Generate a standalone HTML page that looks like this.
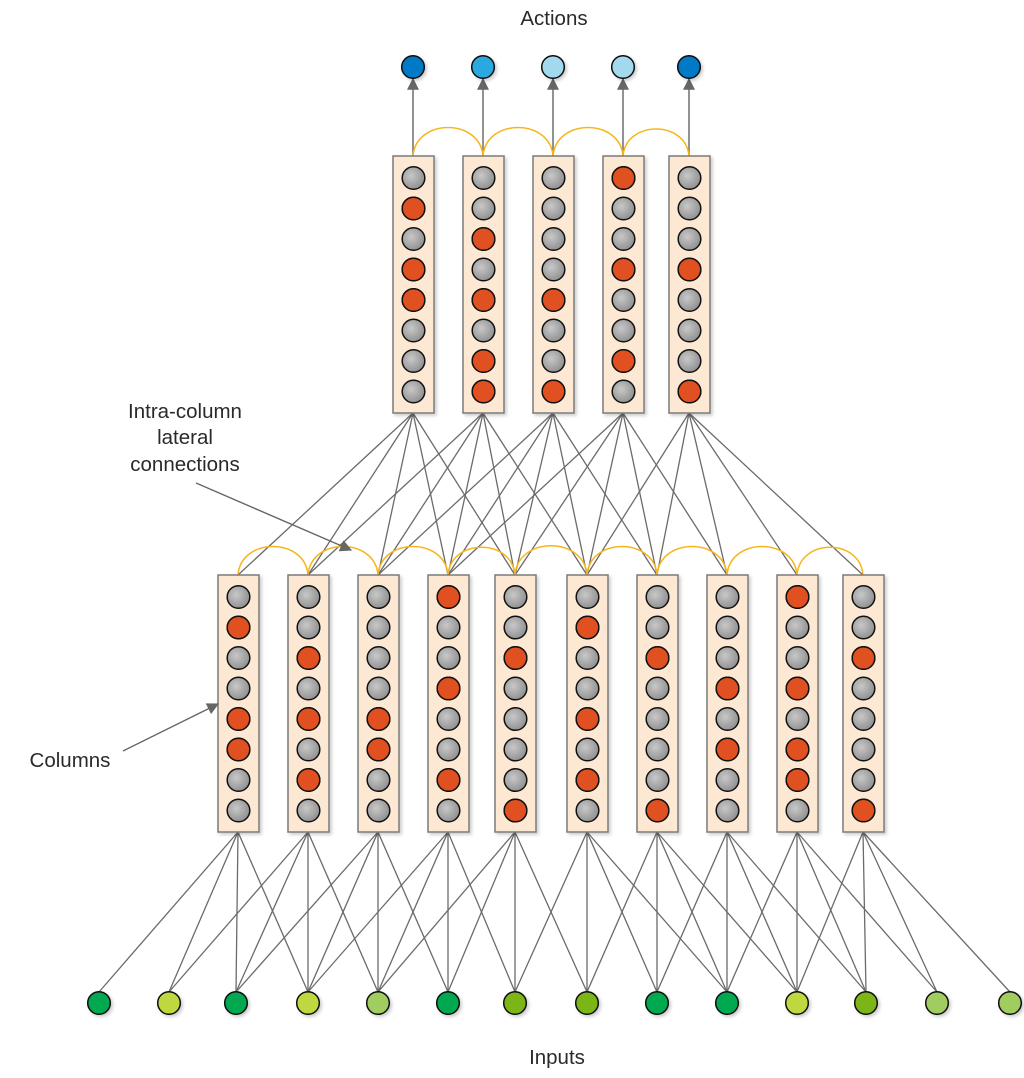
<!DOCTYPE html>
<html><head><meta charset="utf-8">
<style>
html,body{margin:0;padding:0;background:#fff;}
svg{display:block;}
text{font-family:"Liberation Sans",Arial,sans-serif;fill:#2a2a2a;}
</style></head>
<body>
<svg width="1024" height="1078" viewBox="0 0 1024 1078" xmlns="http://www.w3.org/2000/svg">
<defs>
<radialGradient id="gg" cx="0.4" cy="0.4" r="0.65">
<stop offset="0" stop-color="#c8c8c8"/><stop offset="1" stop-color="#8e8e8e"/>
</radialGradient>
<filter id="sh" x="-20%" y="-20%" width="150%" height="150%">
<feDropShadow dx="2" dy="2" stdDeviation="1.5" flood-color="#000" flood-opacity="0.2"/>
</filter>
<g id="col">
<rect x="-20" y="0" width="41" height="257" fill="#fde9d3" stroke="#7a7a7a" stroke-width="1.5" filter="url(#sh)"/>
<g fill="url(#gg)" stroke="#111" stroke-width="1.5">
<circle cx="0.5" cy="22" r="11.3"/><circle cx="0.5" cy="52.5" r="11.3"/><circle cx="0.5" cy="83" r="11.3"/><circle cx="0.5" cy="113.5" r="11.3"/>
<circle cx="0.5" cy="144" r="11.3"/><circle cx="0.5" cy="174.5" r="11.3"/><circle cx="0.5" cy="205" r="11.3"/><circle cx="0.5" cy="235.5" r="11.3"/>
</g>
</g>
<marker id="ah" viewBox="0 0 10 10" refX="9" refY="5" markerWidth="12" markerHeight="12" markerUnits="userSpaceOnUse" orient="auto">
<path d="M0,0 L10,5 L0,10 z" fill="#666"/>
</marker>
</defs>

<g stroke="#6b6b6b" stroke-width="1.3">
<line x1="413" y1="413" x2="238" y2="575"/><line x1="413" y1="413" x2="308" y2="575"/><line x1="413" y1="413" x2="378" y2="575"/><line x1="413" y1="413" x2="448" y2="575"/><line x1="413" y1="413" x2="515" y2="575"/>
<line x1="483" y1="413" x2="308" y2="575"/><line x1="483" y1="413" x2="378" y2="575"/><line x1="483" y1="413" x2="448" y2="575"/><line x1="483" y1="413" x2="515" y2="575"/><line x1="483" y1="413" x2="587" y2="575"/>
<line x1="553" y1="413" x2="378" y2="575"/><line x1="553" y1="413" x2="448" y2="575"/><line x1="553" y1="413" x2="515" y2="575"/><line x1="553" y1="413" x2="587" y2="575"/><line x1="553" y1="413" x2="657" y2="575"/>
<line x1="623" y1="413" x2="448" y2="575"/><line x1="623" y1="413" x2="515" y2="575"/><line x1="623" y1="413" x2="587" y2="575"/><line x1="623" y1="413" x2="657" y2="575"/><line x1="623" y1="413" x2="727" y2="575"/>
<line x1="689" y1="413" x2="587" y2="575"/><line x1="689" y1="413" x2="657" y2="575"/><line x1="689" y1="413" x2="727" y2="575"/><line x1="689" y1="413" x2="797" y2="575"/><line x1="689" y1="413" x2="863" y2="575"/>
</g>

<g stroke="#6b6b6b" stroke-width="1.3">
<line x1="238" y1="832" x2="99" y2="992"/><line x1="238" y1="832" x2="169" y2="992"/><line x1="238" y1="832" x2="236" y2="992"/><line x1="238" y1="832" x2="308" y2="992"/>
<line x1="308" y1="832" x2="169" y2="992"/><line x1="308" y1="832" x2="236" y2="992"/><line x1="308" y1="832" x2="308" y2="992"/><line x1="308" y1="832" x2="378" y2="992"/>
<line x1="378" y1="832" x2="236" y2="992"/><line x1="378" y1="832" x2="308" y2="992"/><line x1="378" y1="832" x2="378" y2="992"/><line x1="378" y1="832" x2="448" y2="992"/>
<line x1="448" y1="832" x2="308" y2="992"/><line x1="448" y1="832" x2="378" y2="992"/><line x1="448" y1="832" x2="448" y2="992"/><line x1="448" y1="832" x2="515" y2="992"/>
<line x1="515" y1="832" x2="378" y2="992"/><line x1="515" y1="832" x2="448" y2="992"/><line x1="515" y1="832" x2="515" y2="992"/><line x1="515" y1="832" x2="587" y2="992"/>
<line x1="587" y1="832" x2="515" y2="992"/><line x1="587" y1="832" x2="587" y2="992"/><line x1="587" y1="832" x2="657" y2="992"/><line x1="587" y1="832" x2="727" y2="992"/>
<line x1="657" y1="832" x2="587" y2="992"/><line x1="657" y1="832" x2="657" y2="992"/><line x1="657" y1="832" x2="727" y2="992"/><line x1="657" y1="832" x2="797" y2="992"/>
<line x1="727" y1="832" x2="657" y2="992"/><line x1="727" y1="832" x2="727" y2="992"/><line x1="727" y1="832" x2="797" y2="992"/><line x1="727" y1="832" x2="866" y2="992"/>
<line x1="797" y1="832" x2="727" y2="992"/><line x1="797" y1="832" x2="797" y2="992"/><line x1="797" y1="832" x2="866" y2="992"/><line x1="797" y1="832" x2="937" y2="992"/>
<line x1="863" y1="832" x2="797" y2="992"/><line x1="863" y1="832" x2="866" y2="992"/><line x1="863" y1="832" x2="937" y2="992"/><line x1="863" y1="832" x2="1010" y2="992"/>
</g>

<g stroke="#777" stroke-width="1.6" marker-end="url(#ah)">
<line x1="413" y1="156" x2="413" y2="79"/><line x1="483" y1="156" x2="483" y2="79"/><line x1="553" y1="156" x2="553" y2="79"/><line x1="623" y1="156" x2="623" y2="79"/><line x1="689" y1="156" x2="689" y2="79"/>
</g>

<g fill="none" stroke="#f7b519" stroke-width="1.5">
<path d="M413,156 C416,118 480,118 483,156"/><path d="M483,156 C486,118 550,118 553,156"/><path d="M553,156 C556,118 620,118 623,156"/><path d="M623,156 C626,120 686,120 689,156"/>
<path d="M238,575 C241,537 305,537 308,575"/><path d="M308,575 C311,537 375,537 378,575"/><path d="M378,575 C381,537 445,537 448,575"/><path d="M448,575 C451,538 512,538 515,575"/><path d="M515,575 C518,536 584,536 587,575"/>
<path d="M587,575 C590,537 654,537 657,575"/><path d="M657,575 C660,537 724,537 727,575"/><path d="M727,575 C730,537 794,537 797,575"/><path d="M797,575 C800,538 860,538 863,575"/>
</g>

<use href="#col" x="413" y="156"/><use href="#col" x="483" y="156"/><use href="#col" x="553" y="156"/><use href="#col" x="623" y="156"/><use href="#col" x="689" y="156"/>
<use href="#col" x="238" y="575"/><use href="#col" x="308" y="575"/><use href="#col" x="378" y="575"/><use href="#col" x="448" y="575"/><use href="#col" x="515" y="575"/>
<use href="#col" x="587" y="575"/><use href="#col" x="657" y="575"/><use href="#col" x="727" y="575"/><use href="#col" x="797" y="575"/><use href="#col" x="863" y="575"/>

<g fill="#e05020" stroke="#111" stroke-width="1.5">
<circle cx="413.5" cy="208.5" r="11.3"/><circle cx="413.5" cy="269.5" r="11.3"/><circle cx="413.5" cy="300" r="11.3"/>
<circle cx="483.5" cy="239" r="11.3"/><circle cx="483.5" cy="300" r="11.3"/><circle cx="483.5" cy="361" r="11.3"/><circle cx="483.5" cy="391.5" r="11.3"/>
<circle cx="553.5" cy="300" r="11.3"/><circle cx="553.5" cy="391.5" r="11.3"/>
<circle cx="623.5" cy="178" r="11.3"/><circle cx="623.5" cy="269.5" r="11.3"/><circle cx="623.5" cy="361" r="11.3"/>
<circle cx="689.5" cy="269.5" r="11.3"/><circle cx="689.5" cy="391.5" r="11.3"/>

<circle cx="238.5" cy="627.5" r="11.3"/><circle cx="238.5" cy="719" r="11.3"/><circle cx="238.5" cy="749.5" r="11.3"/>
<circle cx="308.5" cy="658" r="11.3"/><circle cx="308.5" cy="719" r="11.3"/><circle cx="308.5" cy="780" r="11.3"/>
<circle cx="378.5" cy="719" r="11.3"/><circle cx="378.5" cy="749.5" r="11.3"/>
<circle cx="448.5" cy="597" r="11.3"/><circle cx="448.5" cy="688.5" r="11.3"/><circle cx="448.5" cy="780" r="11.3"/>
<circle cx="515.5" cy="658" r="11.3"/><circle cx="515.5" cy="810.5" r="11.3"/>
<circle cx="587.5" cy="627.5" r="11.3"/><circle cx="587.5" cy="719" r="11.3"/><circle cx="587.5" cy="780" r="11.3"/>
<circle cx="657.5" cy="658" r="11.3"/><circle cx="657.5" cy="810.5" r="11.3"/>
<circle cx="727.5" cy="688.5" r="11.3"/><circle cx="727.5" cy="749.5" r="11.3"/>
<circle cx="797.5" cy="597" r="11.3"/><circle cx="797.5" cy="688.5" r="11.3"/><circle cx="797.5" cy="749.5" r="11.3"/><circle cx="797.5" cy="780" r="11.3"/>
<circle cx="863.5" cy="658" r="11.3"/><circle cx="863.5" cy="810.5" r="11.3"/>
</g>

<g stroke="#111" stroke-width="1.5" filter="url(#sh)">
<circle cx="413" cy="67" r="11.3" fill="#0079c6"/><circle cx="483" cy="67" r="11.3" fill="#2ba8e0"/><circle cx="553" cy="67" r="11.3" fill="#a3d9ef"/><circle cx="623" cy="67" r="11.3" fill="#a3d9ef"/><circle cx="689" cy="67" r="11.3" fill="#0079c6"/>
</g>

<g stroke="#111" stroke-width="1.5" filter="url(#sh)">
<circle cx="99" cy="1003" r="11.3" fill="#00a850"/><circle cx="169" cy="1003" r="11.3" fill="#c0d840"/><circle cx="236" cy="1003" r="11.3" fill="#00a850"/><circle cx="308" cy="1003" r="11.3" fill="#c0d840"/>
<circle cx="378" cy="1003" r="11.3" fill="#a0cc60"/><circle cx="448" cy="1003" r="11.3" fill="#00a850"/><circle cx="515" cy="1003" r="11.3" fill="#7cb518"/><circle cx="587" cy="1003" r="11.3" fill="#7cb518"/>
<circle cx="657" cy="1003" r="11.3" fill="#00a850"/><circle cx="727" cy="1003" r="11.3" fill="#00a850"/><circle cx="797" cy="1003" r="11.3" fill="#c0d840"/><circle cx="866" cy="1003" r="11.3" fill="#7cb518"/>
<circle cx="937" cy="1003" r="11.3" fill="#a0cc60"/><circle cx="1010" cy="1003" r="11.3" fill="#a0cc60"/>
</g>

<g stroke="#666" stroke-width="1.4" marker-end="url(#ah)">
<line x1="196" y1="483" x2="351" y2="550"/>
<line x1="123" y1="751" x2="218" y2="704"/>
</g>

<text x="554" y="25" font-size="20.5" text-anchor="middle">Actions</text>
<text x="557" y="1064" font-size="20.5" text-anchor="middle">Inputs</text>
<text x="185" y="418" font-size="20.5" text-anchor="middle">Intra-column</text>
<text x="185" y="444" font-size="20.5" text-anchor="middle">lateral</text>
<text x="185" y="471" font-size="20.5" text-anchor="middle">connections</text>
<text x="70" y="767" font-size="20.5" text-anchor="middle">Columns</text>
</svg>
</body></html>
